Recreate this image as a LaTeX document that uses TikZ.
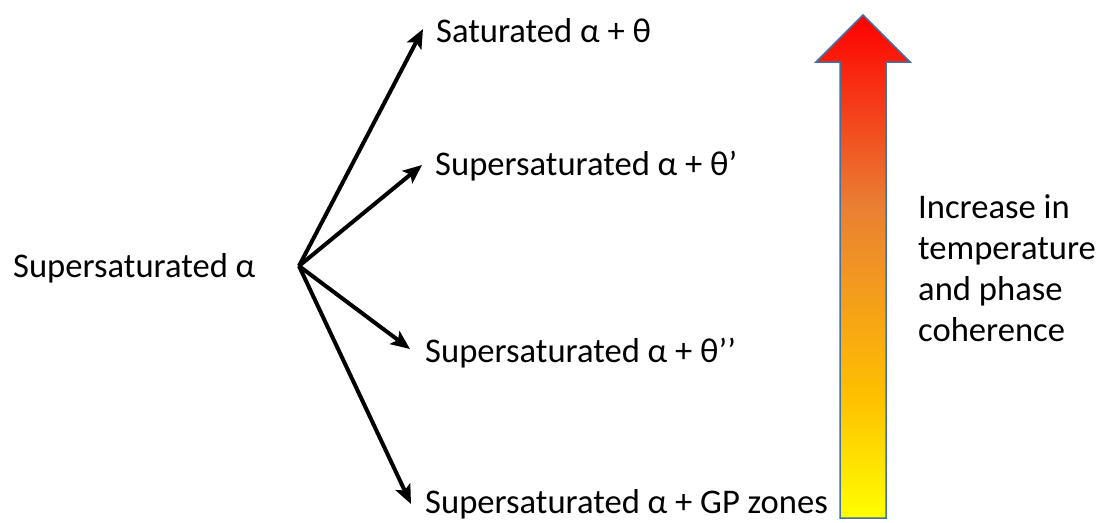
\documentclass[tikz,border=0pt]{standalone}
\usepackage{fontspec}
\setmainfont{Carlito}
\usetikzlibrary{arrows.meta}

\definecolor{heatY}{HTML}{FFFF00}
\definecolor{heatG}{HTML}{FFC000}
\definecolor{heatO}{HTML}{EA7F33}
\definecolor{heatR}{HTML}{FF0000}
\definecolor{edgeblue}{HTML}{41719C}

% vertical heat scale: yellow at the bottom, red at the top
\pgfdeclareverticalshading{heatscale}{100bp}{%
  color(0bp)=(heatY); color(25bp)=(heatY);
  color(37bp)=(heatG);
  color(56bp)=(heatO);
  color(75bp)=(heatR); color(100bp)=(heatR)}

\begin{document}
\begin{tikzpicture}[x=1pt,y=-1pt,
  lbl/.style={anchor=base west,inner sep=0pt,font=\fontsize{34.6}{41}\selectfont},
  conn/.style={line width=4pt,-{Stealth[length=19pt,width=16pt,inset=4pt]}}]
\useasboundingbox (0,0) rectangle (1108,522);

% labels
\node[lbl] (src) at (13,277) {Supersaturated α};
\node[lbl] (n1) at (436,42) {Saturated α + θ};
\node[lbl] (n2) at (435,175) {Supersaturated α + θ’};
\node[lbl] (n3) at (425,362) {Supersaturated α + θ’’};
\node[lbl] (n4) at (425,513) {Supersaturated α + GP zones};
\node[lbl,anchor=north west,align=left] (note) at (918,194)
  {Increase in\\temperature\\and phase\\coherence};

% branching connectors
\coordinate (hub) at (299,266);
\coordinate (t1) at (423,29);
\coordinate (t2) at (422,165);
\coordinate (t3) at (410,349);
\coordinate (t4) at (411,504);
\draw[conn] (hub) -- (t1);
\draw[conn] (hub) -- (t2);
\draw[conn] (hub) -- (t3);
\draw[conn] (hub) -- (t4);

% large shaded arrow
\path[shading=heatscale,draw=edgeblue,line width=1.5pt,line join=miter]
  (840,518) -- (840,62) -- (816,62) -- (863,15) -- (910,62)
  -- (886,62) -- (886,518) -- cycle;
\end{tikzpicture}
\end{document}
